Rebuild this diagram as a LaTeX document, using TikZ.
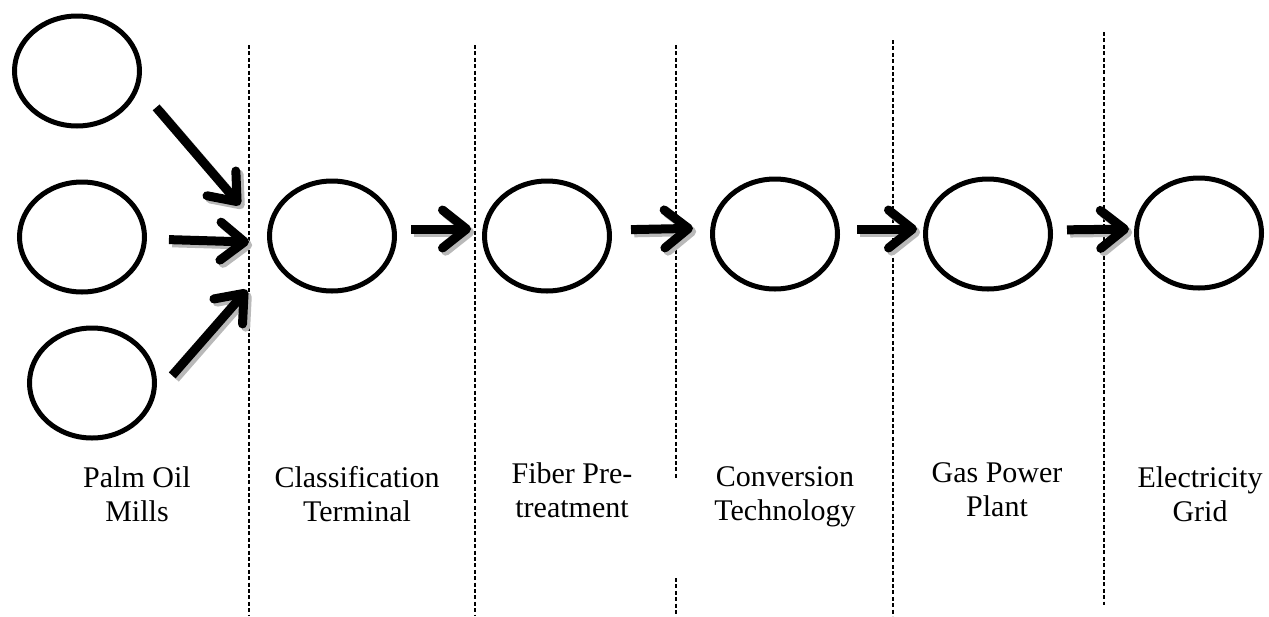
\documentclass[tikz,border=0pt]{standalone}
\usepackage{fontspec}
\setmainfont{Liberation Serif}
\usetikzlibrary{shapes.geometric, arrows.meta}

\begin{document}
\begin{tikzpicture}[x=0.5pt, y=-0.5pt,
	stage/.style={ellipse, draw, line width=2.5pt, minimum width=62.5pt, minimum height=55pt, inner sep=0pt},
	flow/.style={line width=4.5pt, -{Straight Barb[length=12pt, width=19pt, round]}},
	divider/.style={line width=0.8pt, dash pattern=on 2pt off 1.2pt},
	stagetext/.style={align=center, font=\fontsize{15}{17}\selectfont}]
	\useasboundingbox (0,0) rectangle (1269,616);

	\foreach \dx/\dt/\db in {249/45/616, 475/45/616, 676/45/480, 676/578/616, 893/40/616, 1104/32/605}
		\draw[divider] (\dx,\dt) -- (\dx,\db);

	\node[stage] (mill1) at (77,71) {};
	\node[stage] (mill2) at (82,237) {};
	\node[stage] (mill3) at (92,383) {};
	\node[stage] (terminal) at (332,236) {};
	\node[stage] (pretreat) at (547,236) {};
	\node[stage] (convert) at (775,234) {};
	\node[stage] (plant) at (988,234) {};
	\node[stage] (grid) at (1199,233) {};

	\coordinate (in1) at (240,205);
	\coordinate (in2) at (249,242);
	\coordinate (in3) at (247,290);

	\foreach \shade/\off in {gray!55/1.6, black/0} {
	\begin{scope}[transform canvas={shift={(\off pt,-\off pt)}}, draw=\shade]
		\draw[flow, shorten <=13pt] (mill1.-15) -- (in1);
		\draw[flow, shorten <=11pt] (mill2) -- (in2);
		\draw[flow, shorten <=12.5pt] (mill3.-10) -- (in3);
		\draw[flow, shorten <=7pt, shorten >=5.5pt] ([yshift=3.5pt]terminal.east) -- ([yshift=3.5pt]pretreat.west);
		\draw[flow, shorten <=9.5pt, shorten >=8.5pt] ([yshift=3pt]pretreat.east) -- ([yshift=3pt]convert.west);
		\draw[flow, shorten <=8.5pt, shorten >=3pt] ([yshift=2.5pt]convert.east) -- ([yshift=2.5pt]plant.west);
		\draw[flow, shorten <=7pt, shorten >=2.5pt] ([yshift=2pt]plant.east) -- ([yshift=2pt]grid.west);
	\end{scope}
	}

	\node[stagetext] (tmills) at (137,494) {Palm Oil\\Mills};
	\node[stagetext] (tterminal) at (357,494) {Classification\\Terminal};
	\node[stagetext] (tpretreat) at (572,490) {Fiber Pre-\\treatment};
	\node[stagetext] (tconvert) at (785,497) {Conversion\\Technology};
	\node[stagetext] (tplant) at (997,490) {Gas Power\\Plant};
	\node[stagetext] (tgrid) at (1200,494) {Electricity\\Grid};
\end{tikzpicture}
\end{document}
